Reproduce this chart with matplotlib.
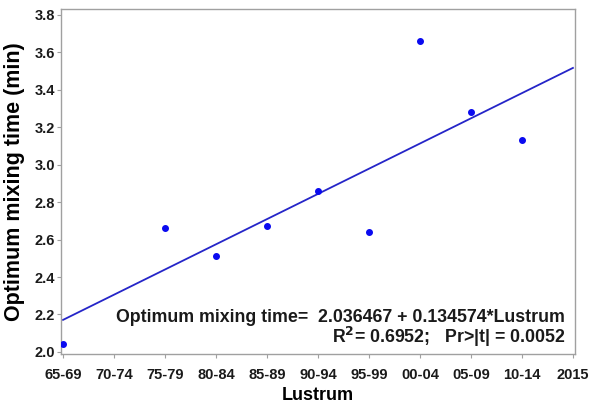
import numpy as np
import matplotlib.pyplot as plt

plt.rcParams['font.family'] = ['Liberation Sans', 'DejaVu Sans']
plt.rcParams['font.weight'] = 'bold'

# data
lustrum_labels = ['65-69', '70-74', '75-79', '80-84', '85-89', '90-94',
                  '95-99', '00-04', '05-09', '10-14', '2015']
lustrum = [1, 3, 4, 5, 6, 7, 8, 9, 10]
mix_time = [2.04, 2.66, 2.51, 2.67, 2.86, 2.64, 3.66, 3.28, 3.13]

# fitted line from the equation in the chart
b0 = 2.036467
b1 = 0.134574

fig = plt.figure(figsize=(5.98, 4.05), dpi=100)
ax = fig.add_axes([0.102, 0.126, 0.8595, 0.852])

xl = np.array([1, 11])
ax.plot(xl, b0 + b1 * xl, color='#2525c8', lw=1.3, zorder=2)
ax.plot(lustrum, mix_time, 'o', color='#0a0af0', ms=4, zorder=3)

ax.set_xlim(0.96, 11.04)
ax.set_ylim(1.989, 3.832)
ax.set_xticks(range(1, 12))
ax.set_xticklabels(lustrum_labels)
ax.set_yticks(np.arange(2.0, 3.81, 0.2))
ax.set_yticklabels([f'{v:.1f}' for v in np.arange(2.0, 3.81, 0.2)])

for sp in ax.spines.values():
    sp.set_color('#a0a0a0')
    sp.set_linewidth(1.0)
ax.tick_params(direction='out', length=3, color='#a0a0a0', labelsize=10.5,
               labelcolor='#1a1a1a')
ax.tick_params(axis='x', pad=7)
ax.tick_params(axis='y', pad=1.5)
for lb in ax.get_xticklabels() + ax.get_yticklabels():
    lb.set_fontweight('bold')

ax.set_xlabel('Lustrum', fontsize=13, fontweight='bold', labelpad=4)
ax.set_ylabel('Optimum mixing time (min)', fontsize=15.5, fontweight='bold', labelpad=7)

ax.text(0.9805, 0.107, 'Optimum mixing time=  2.036467 + 0.134574*Lustrum',
        transform=ax.transAxes, ha='right', va='center', fontsize=12.8,
        fontweight='bold', color='#1a1a1a')
ax.text(0.9805, 0.049, 'R$^{2}$= 0.6952;   Pr>|t| = 0.0052',
        transform=ax.transAxes, ha='right', va='center', fontsize=12.8,
        fontweight='bold', color='#1a1a1a')

fig.savefig('out.png', dpi=100)
